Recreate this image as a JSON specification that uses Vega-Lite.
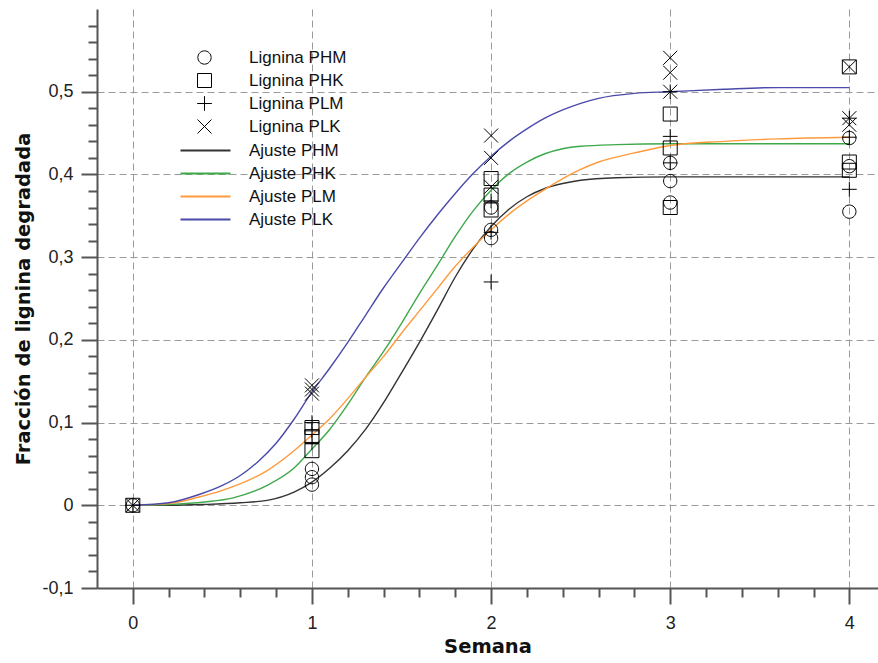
{
  "$schema": "https://vega.github.io/schema/vega-lite/v6.json",
  "width": 781,
  "height": 579,
  "autosize": {"type": "none"},
  "padding": {"left": 97, "top": 9, "right": 0, "bottom": 75},
  "background": "white",
  "config": {"view": {"stroke": null}, "font": "Liberation Sans"},
  "datasets": {
    "curves": [
      {"serie": "Ajuste PHM", "semana": 0, "valor": 0},
      {"serie": "Ajuste PHM", "semana": 0.2, "valor": 0},
      {"serie": "Ajuste PHM", "semana": 0.4, "valor": 0.001},
      {"serie": "Ajuste PHM", "semana": 0.6, "valor": 0.003},
      {"serie": "Ajuste PHM", "semana": 0.75, "valor": 0.006},
      {"serie": "Ajuste PHM", "semana": 0.9, "valor": 0.016},
      {"serie": "Ajuste PHM", "semana": 1.0, "valor": 0.028},
      {"serie": "Ajuste PHM", "semana": 1.1, "valor": 0.045},
      {"serie": "Ajuste PHM", "semana": 1.2, "valor": 0.066},
      {"serie": "Ajuste PHM", "semana": 1.3, "valor": 0.092},
      {"serie": "Ajuste PHM", "semana": 1.4, "valor": 0.124},
      {"serie": "Ajuste PHM", "semana": 1.5, "valor": 0.16},
      {"serie": "Ajuste PHM", "semana": 1.6, "valor": 0.197},
      {"serie": "Ajuste PHM", "semana": 1.7, "valor": 0.236},
      {"serie": "Ajuste PHM", "semana": 1.8, "valor": 0.276},
      {"serie": "Ajuste PHM", "semana": 1.9, "valor": 0.31},
      {"serie": "Ajuste PHM", "semana": 2.0, "valor": 0.337},
      {"serie": "Ajuste PHM", "semana": 2.1, "valor": 0.358},
      {"serie": "Ajuste PHM", "semana": 2.2, "valor": 0.373},
      {"serie": "Ajuste PHM", "semana": 2.3, "valor": 0.383},
      {"serie": "Ajuste PHM", "semana": 2.4, "valor": 0.389},
      {"serie": "Ajuste PHM", "semana": 2.5, "valor": 0.393},
      {"serie": "Ajuste PHM", "semana": 2.7, "valor": 0.396},
      {"serie": "Ajuste PHM", "semana": 3.0, "valor": 0.397},
      {"serie": "Ajuste PHM", "semana": 4.0, "valor": 0.397},
      {"serie": "Ajuste PHK", "semana": 0, "valor": 0},
      {"serie": "Ajuste PHK", "semana": 0.2, "valor": 0.001},
      {"serie": "Ajuste PHK", "semana": 0.4, "valor": 0.004},
      {"serie": "Ajuste PHK", "semana": 0.56, "valor": 0.009},
      {"serie": "Ajuste PHK", "semana": 0.75, "valor": 0.024},
      {"serie": "Ajuste PHK", "semana": 0.9, "valor": 0.045},
      {"serie": "Ajuste PHK", "semana": 1.0, "valor": 0.068},
      {"serie": "Ajuste PHK", "semana": 1.1, "valor": 0.092},
      {"serie": "Ajuste PHK", "semana": 1.2, "valor": 0.122},
      {"serie": "Ajuste PHK", "semana": 1.3, "valor": 0.155},
      {"serie": "Ajuste PHK", "semana": 1.4, "valor": 0.186},
      {"serie": "Ajuste PHK", "semana": 1.5, "valor": 0.22},
      {"serie": "Ajuste PHK", "semana": 1.6, "valor": 0.256},
      {"serie": "Ajuste PHK", "semana": 1.7, "valor": 0.29},
      {"serie": "Ajuste PHK", "semana": 1.8, "valor": 0.325},
      {"serie": "Ajuste PHK", "semana": 1.9, "valor": 0.356},
      {"serie": "Ajuste PHK", "semana": 2.0, "valor": 0.381},
      {"serie": "Ajuste PHK", "semana": 2.1, "valor": 0.401},
      {"serie": "Ajuste PHK", "semana": 2.2, "valor": 0.415},
      {"serie": "Ajuste PHK", "semana": 2.3, "valor": 0.425},
      {"serie": "Ajuste PHK", "semana": 2.4, "valor": 0.431},
      {"serie": "Ajuste PHK", "semana": 2.5, "valor": 0.434},
      {"serie": "Ajuste PHK", "semana": 2.7, "valor": 0.436},
      {"serie": "Ajuste PHK", "semana": 3.0, "valor": 0.437},
      {"serie": "Ajuste PHK", "semana": 4.0, "valor": 0.437},
      {"serie": "Ajuste PLM", "semana": 0, "valor": 0},
      {"serie": "Ajuste PLM", "semana": 0.2, "valor": 0.002},
      {"serie": "Ajuste PLM", "semana": 0.37, "valor": 0.01},
      {"serie": "Ajuste PLM", "semana": 0.5, "valor": 0.018},
      {"serie": "Ajuste PLM", "semana": 0.75, "valor": 0.042},
      {"serie": "Ajuste PLM", "semana": 0.9, "valor": 0.066},
      {"serie": "Ajuste PLM", "semana": 1.0, "valor": 0.085},
      {"serie": "Ajuste PLM", "semana": 1.1, "valor": 0.105},
      {"serie": "Ajuste PLM", "semana": 1.2, "valor": 0.129},
      {"serie": "Ajuste PLM", "semana": 1.3, "valor": 0.155},
      {"serie": "Ajuste PLM", "semana": 1.4, "valor": 0.18},
      {"serie": "Ajuste PLM", "semana": 1.5, "valor": 0.208},
      {"serie": "Ajuste PLM", "semana": 1.6, "valor": 0.235},
      {"serie": "Ajuste PLM", "semana": 1.7, "valor": 0.262},
      {"serie": "Ajuste PLM", "semana": 1.8, "valor": 0.289},
      {"serie": "Ajuste PLM", "semana": 1.9, "valor": 0.312},
      {"serie": "Ajuste PLM", "semana": 2.0, "valor": 0.333},
      {"serie": "Ajuste PLM", "semana": 2.1, "valor": 0.352},
      {"serie": "Ajuste PLM", "semana": 2.2, "valor": 0.368},
      {"serie": "Ajuste PLM", "semana": 2.3, "valor": 0.382},
      {"serie": "Ajuste PLM", "semana": 2.4, "valor": 0.395},
      {"serie": "Ajuste PLM", "semana": 2.5, "valor": 0.406},
      {"serie": "Ajuste PLM", "semana": 2.6, "valor": 0.415},
      {"serie": "Ajuste PLM", "semana": 2.8, "valor": 0.426},
      {"serie": "Ajuste PLM", "semana": 3.0, "valor": 0.435},
      {"serie": "Ajuste PLM", "semana": 3.3, "valor": 0.44},
      {"serie": "Ajuste PLM", "semana": 3.6, "valor": 0.443},
      {"serie": "Ajuste PLM", "semana": 4.0, "valor": 0.445},
      {"serie": "Ajuste PLK", "semana": 0, "valor": 0},
      {"serie": "Ajuste PLK", "semana": 0.2, "valor": 0.003},
      {"serie": "Ajuste PLK", "semana": 0.37, "valor": 0.013},
      {"serie": "Ajuste PLK", "semana": 0.5, "valor": 0.024},
      {"serie": "Ajuste PLK", "semana": 0.6, "valor": 0.036},
      {"serie": "Ajuste PLK", "semana": 0.7, "valor": 0.053},
      {"serie": "Ajuste PLK", "semana": 0.8, "valor": 0.075},
      {"serie": "Ajuste PLK", "semana": 0.9, "valor": 0.104},
      {"serie": "Ajuste PLK", "semana": 1.0, "valor": 0.137},
      {"serie": "Ajuste PLK", "semana": 1.1, "valor": 0.166},
      {"serie": "Ajuste PLK", "semana": 1.2, "valor": 0.197},
      {"serie": "Ajuste PLK", "semana": 1.3, "valor": 0.23},
      {"serie": "Ajuste PLK", "semana": 1.4, "valor": 0.263},
      {"serie": "Ajuste PLK", "semana": 1.5, "valor": 0.293},
      {"serie": "Ajuste PLK", "semana": 1.6, "valor": 0.323},
      {"serie": "Ajuste PLK", "semana": 1.7, "valor": 0.351},
      {"serie": "Ajuste PLK", "semana": 1.8, "valor": 0.377},
      {"serie": "Ajuste PLK", "semana": 1.9, "valor": 0.401},
      {"serie": "Ajuste PLK", "semana": 2.0, "valor": 0.422},
      {"serie": "Ajuste PLK", "semana": 2.1, "valor": 0.44},
      {"serie": "Ajuste PLK", "semana": 2.2, "valor": 0.455},
      {"serie": "Ajuste PLK", "semana": 2.3, "valor": 0.468},
      {"serie": "Ajuste PLK", "semana": 2.4, "valor": 0.478},
      {"serie": "Ajuste PLK", "semana": 2.5, "valor": 0.486},
      {"serie": "Ajuste PLK", "semana": 2.6, "valor": 0.492},
      {"serie": "Ajuste PLK", "semana": 2.8, "valor": 0.498},
      {"serie": "Ajuste PLK", "semana": 3.0, "valor": 0.5},
      {"serie": "Ajuste PLK", "semana": 3.3, "valor": 0.503},
      {"serie": "Ajuste PLK", "semana": 3.6, "valor": 0.505},
      {"serie": "Ajuste PLK", "semana": 4.0, "valor": 0.505}
    ],
    "points": [
      {"serie": "Lignina PHM", "semana": 0, "valor": 0},
      {"serie": "Lignina PHK", "semana": 0, "valor": 0},
      {"serie": "Lignina PLM", "semana": 0, "valor": 0},
      {"serie": "Lignina PLK", "semana": 0, "valor": 0},
      {"serie": "Lignina PHM", "semana": 1, "valor": 0.044},
      {"serie": "Lignina PHM", "semana": 1, "valor": 0.034},
      {"serie": "Lignina PHM", "semana": 1, "valor": 0.025},
      {"serie": "Lignina PHK", "semana": 1, "valor": 0.094},
      {"serie": "Lignina PHK", "semana": 1, "valor": 0.083},
      {"serie": "Lignina PHK", "semana": 1, "valor": 0.066},
      {"serie": "Lignina PLM", "semana": 1, "valor": 0.1},
      {"serie": "Lignina PLM", "semana": 1, "valor": 0.09},
      {"serie": "Lignina PLM", "semana": 1, "valor": 0.076},
      {"serie": "Lignina PLK", "semana": 1, "valor": 0.145},
      {"serie": "Lignina PLK", "semana": 1, "valor": 0.14},
      {"serie": "Lignina PLK", "semana": 1, "valor": 0.135},
      {"serie": "Lignina PHM", "semana": 2, "valor": 0.36},
      {"serie": "Lignina PHM", "semana": 2, "valor": 0.333},
      {"serie": "Lignina PHM", "semana": 2, "valor": 0.323},
      {"serie": "Lignina PHK", "semana": 2, "valor": 0.395},
      {"serie": "Lignina PHK", "semana": 2, "valor": 0.375},
      {"serie": "Lignina PHK", "semana": 2, "valor": 0.357},
      {"serie": "Lignina PLM", "semana": 2, "valor": 0.368},
      {"serie": "Lignina PLM", "semana": 2, "valor": 0.33},
      {"serie": "Lignina PLM", "semana": 2, "valor": 0.27},
      {"serie": "Lignina PLK", "semana": 2, "valor": 0.447},
      {"serie": "Lignina PLK", "semana": 2, "valor": 0.42},
      {"serie": "Lignina PLK", "semana": 2, "valor": 0.385},
      {"serie": "Lignina PHM", "semana": 3, "valor": 0.414},
      {"serie": "Lignina PHM", "semana": 3, "valor": 0.392},
      {"serie": "Lignina PHM", "semana": 3, "valor": 0.366},
      {"serie": "Lignina PHK", "semana": 3, "valor": 0.473},
      {"serie": "Lignina PHK", "semana": 3, "valor": 0.432},
      {"serie": "Lignina PHK", "semana": 3, "valor": 0.36},
      {"serie": "Lignina PLM", "semana": 3, "valor": 0.5},
      {"serie": "Lignina PLM", "semana": 3, "valor": 0.446},
      {"serie": "Lignina PLM", "semana": 3, "valor": 0.414},
      {"serie": "Lignina PLK", "semana": 3, "valor": 0.541},
      {"serie": "Lignina PLK", "semana": 3, "valor": 0.523},
      {"serie": "Lignina PLK", "semana": 3, "valor": 0.5},
      {"serie": "Lignina PHM", "semana": 4, "valor": 0.444},
      {"serie": "Lignina PHM", "semana": 4, "valor": 0.41},
      {"serie": "Lignina PHM", "semana": 4, "valor": 0.355},
      {"serie": "Lignina PHK", "semana": 4, "valor": 0.53},
      {"serie": "Lignina PHK", "semana": 4, "valor": 0.415},
      {"serie": "Lignina PHK", "semana": 4, "valor": 0.405},
      {"serie": "Lignina PLM", "semana": 4, "valor": 0.468},
      {"serie": "Lignina PLM", "semana": 4, "valor": 0.445},
      {"serie": "Lignina PLM", "semana": 4, "valor": 0.382},
      {"serie": "Lignina PLK", "semana": 4, "valor": 0.53},
      {"serie": "Lignina PLK", "semana": 4, "valor": 0.468},
      {"serie": "Lignina PLK", "semana": 4, "valor": 0.46}
    ]
  },
  "encoding": {
    "x": {
      "field": "semana",
      "type": "quantitative",
      "scale": {"domain": [-0.2, 4.16], "nice": false, "zero": false},
      "axis": {
        "title": "Semana",
        "values": [0, 0.2, 0.4, 0.6, 0.8, 1, 1.2, 1.4, 1.6, 1.8, 2, 2.2, 2.4, 2.6, 2.8, 3, 3.2, 3.4, 3.6, 3.8, 4],
        "labelExpr": "abs(datum.value - round(datum.value)) < 0.001 ? toString(round(datum.value)) : ''",
        "tickSize": {"condition": {"test": "abs(datum.value - round(datum.value)) < 0.001", "value": 16}, "value": 9},
        "grid": true,
        "gridOpacity": {"condition": {"test": "abs(datum.value - round(datum.value)) < 0.001", "value": 1}, "value": 0},
        "gridDash": [7, 4],
        "gridColor": "#9a9a9a",
        "gridWidth": 1,
        "domainColor": "#555555",
        "domainWidth": 2,
        "tickColor": "#555555",
        "tickWidth": 2,
        "labelFont": "Liberation Sans",
        "labelFontSize": 18,
        "labelColor": "#222222",
        "labelPadding": 10,
        "labelFlush": false,
        "labelOverlap": false,
        "titleFont": "DejaVu Sans",
        "titleFontSize": 19.5,
        "titleFontWeight": "bold",
        "titleColor": "#111111",
        "titlePadding": 5
      }
    },
    "y": {
      "field": "valor",
      "type": "quantitative",
      "scale": {"domain": [-0.1, 0.6], "nice": false, "zero": false},
      "axis": {
        "title": "Fracción de lignina degradada",
        "values": [-0.1, -0.08, -0.06, -0.04, -0.02, 0, 0.02, 0.04, 0.06, 0.08, 0.1, 0.12, 0.14, 0.16, 0.18, 0.2, 0.22, 0.24, 0.26, 0.28, 0.3, 0.32, 0.34, 0.36, 0.38, 0.4, 0.42, 0.44, 0.46, 0.48, 0.5, 0.52, 0.54, 0.56, 0.58],
        "labelExpr": "abs(datum.value * 10 - round(datum.value * 10)) < 0.001 ? replace(toString(round(datum.value * 10) / 10), '.', ',') : ''",
        "tickSize": {"condition": {"test": "abs(datum.value * 10 - round(datum.value * 10)) < 0.001", "value": 16}, "value": 9},
        "grid": true,
        "gridOpacity": {"condition": {"test": "abs(datum.value * 10 - round(datum.value * 10)) < 0.001", "value": 1}, "value": 0},
        "gridDash": [7, 4],
        "gridColor": "#9a9a9a",
        "gridWidth": 1,
        "domainColor": "#555555",
        "domainWidth": 2,
        "tickColor": "#555555",
        "tickWidth": 2,
        "labelFont": "Liberation Sans",
        "labelFontSize": 18,
        "labelColor": "#222222",
        "labelPadding": 8,
        "labelFlush": false,
        "labelOverlap": false,
        "titleFont": "DejaVu Sans",
        "titleFontSize": 19.5,
        "titleFontWeight": "bold",
        "titleColor": "#111111",
        "titlePadding": 8
      }
    }
  },
  "layer": [
    {
      "data": {"name": "curves"},
      "mark": {"type": "line", "strokeWidth": 1.4, "interpolate": "monotone"},
      "encoding": {
        "color": {
          "field": "serie",
          "type": "nominal",
          "scale": {
            "domain": ["Ajuste PHM", "Ajuste PHK", "Ajuste PLM", "Ajuste PLK"],
            "range": ["#333333", "#3fa84a", "#ff9a3c", "#4a4aaa"]
          },
          "legend": {
            "title": null,
            "orient": "none",
            "legendX": 100,
            "legendY": 133,
            "padding": 0,
            "symbolType": "M-5,0H5",
            "symbolSize": 100,
            "symbolStrokeWidth": 2,
            "labelFont": "Liberation Sans",
            "labelFontSize": 17,
            "labelColor": "#111111",
            "labelOffset": 35,
            "rowPadding": 5
          }
        }
      }
    },
    {
      "data": {"name": "points"},
      "mark": {"type": "point", "filled": false, "color": "black", "strokeWidth": 1, "size": 196, "opacity": 1},
      "encoding": {
        "shape": {
          "field": "serie",
          "type": "nominal",
          "scale": {
            "domain": ["Lignina PHM", "Lignina PHK", "Lignina PLM", "Lignina PLK"],
            "range": [
              "M-0.95,0A0.95,0.95,0,1,1,0.95,0A0.95,0.95,0,1,1,-0.95,0Z",
              "M-1,-1H1V1H-1Z",
              "M-1.05,0H1.05M0,-1.05V1.05",
              "M-1,-1L1,1M-1,1L1,-1"
            ]
          },
          "legend": {
            "title": null,
            "orient": "none",
            "legendX": 99,
            "legendY": 40,
            "padding": 0,
            "symbolStrokeColor": "black",
            "symbolStrokeWidth": 1,
            "symbolSize": 196,
            "labelFont": "Liberation Sans",
            "labelFontSize": 17,
            "labelColor": "#111111",
            "labelOffset": 36,
            "rowPadding": 4
          }
        }
      }
    }
  ]
}
